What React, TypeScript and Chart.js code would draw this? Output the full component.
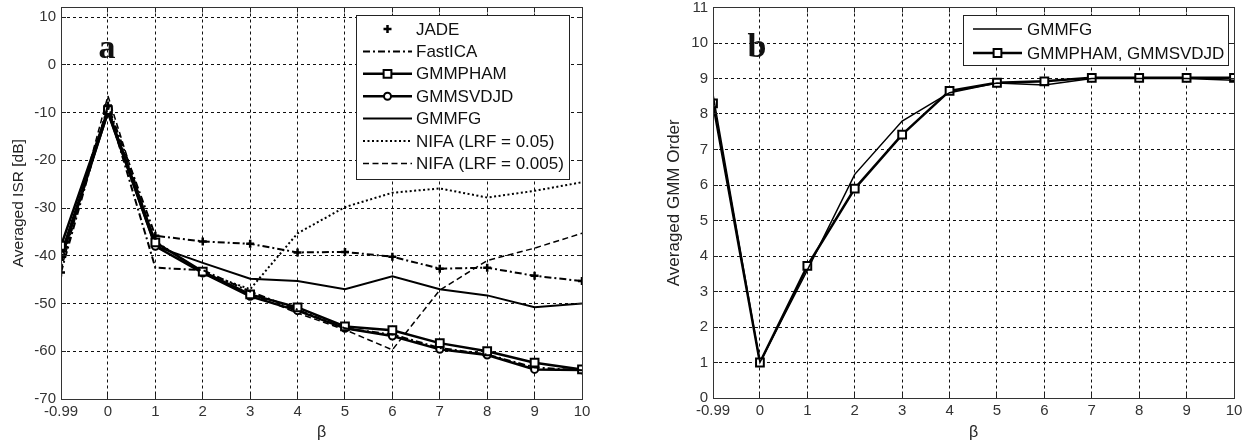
import React, { useEffect, useRef } from "react";
import { Chart, registerables } from "chart.js";

Chart.register(...registerables);

// ---------- data ----------
const betaValues = [-0.99, 0, 1, 2, 3, 4, 5, 6, 7, 8, 9, 10];
const isrTicks = [-70, -60, -50, -40, -30, -20, -10, 0, 10];
const orderTicks = [0, 1, 2, 3, 4, 5, 6, 7, 8, 9, 10, 11];

const jadeISR = [-43.5, -8.5, -35.8, -37, -37.5, -39.3, -39.2, -40.2, -42.7, -42.5, -44.2, -45.3];
const fastIcaISR = [-41, -9, -42.5, -43, -47.5, -51.3, -55.2, -56.5, -59.3, -60.7, -63.4, -64];
const gmmPhamISR = [-37.9, -9.5, -37.2, -43.3, -48.1, -50.8, -54.8, -55.6, -58.3, -60, -62.4, -63.8];
const gmmSvdjdISR = [-39.8, -10, -38, -43.6, -48.5, -51.5, -55.2, -56.8, -59.6, -60.8, -63.8, -63.9];
const gmmFgISR = [-41, -10, -38, -41.5, -44.8, -45.3, -47, -44.3, -47, -48.3, -50.8, -50];
const nifa05ISR = [-42, -9, -37, -43.5, -47, -35.3, -29.8, -26.8, -25.9, -27.8, -26.4, -24.6];
const nifa005ISR = [-43, -6.5, -38, -43.5, -48, -52, -55.5, -59.7, -47.2, -41, -38.4, -35.3];

const gmmFgOrder = [8.55, 1.0, 3.6, 6.3, 7.8, 8.6, 8.87, 8.82, 9.0, 9.0, 9.0, 8.95];
const gmmPhamSvdjdOrder = [8.3, 1.0, 3.72, 5.9, 7.42, 8.65, 8.88, 8.92, 9.02, 9.02, 9.02, 9.02];

// ---------- helpers ----------
const FONT = "'Liberation Sans', Arial, Helvetica, sans-serif";
const toPoints = (ys: number[]) => betaValues.map((x, i) => ({ x, y: ys[i] }));
const al = (p: number) => Math.round(p - 0.5) + 0.5;

function drawMarker(ctx: CanvasRenderingContext2D, style: string, x: number, y: number, r: number, bw: number) {
  ctx.save();
  ctx.setLineDash([]);
  ctx.lineWidth = bw;
  ctx.strokeStyle = "#000";
  ctx.fillStyle = "#fff";
  ctx.beginPath();
  if (style === "rect") {
    const s = r * Math.SQRT1_2;
    ctx.rect(x - s, y - s, 2 * s, 2 * s);
    ctx.fill();
    ctx.stroke();
  } else if (style === "circle") {
    ctx.arc(x, y, r, 0, Math.PI * 2);
    ctx.fill();
    ctx.stroke();
  } else if (style === "cross") {
    ctx.moveTo(x - r, y);
    ctx.lineTo(x + r, y);
    ctx.moveTo(x, y - r);
    ctx.lineTo(x, y + r);
    ctx.stroke();
  }
  ctx.restore();
}

type PanelCfg = {
  yTitle: string;
  yTitleX: number;
  yTitleFont: number;
  xTitleY: number;
  panelLabel: string;
  panelLabelX: number;
  panelLabelY: number;
  legendBox: [number, number, number, number];
  legendRow0: number;
  legendRowH: number;
  legendLine: [number, number];
  legendTextX: number;
};

function overlayPlugin(cfg: PanelCfg) {
  return {
    id: "overlay",
    afterDraw(chart: any) {
      const { ctx, chartArea: a } = chart;
      const xs = chart.scales.x;
      const ys = chart.scales.y;
      ctx.save();
      ctx.setLineDash([]);
      ctx.strokeStyle = "#222";
      ctx.lineWidth = 1;
      // inward ticks
      const tl = 5;
      ctx.beginPath();
      xs.ticks.forEach((t: any) => {
        const px = al(xs.getPixelForValue(t.value));
        ctx.moveTo(px, a.bottom);
        ctx.lineTo(px, a.bottom - tl);
        ctx.moveTo(px, a.top);
        ctx.lineTo(px, a.top + tl);
      });
      ys.ticks.forEach((t: any) => {
        const py = al(ys.getPixelForValue(t.value));
        ctx.moveTo(a.left, py);
        ctx.lineTo(a.left + tl, py);
        ctx.moveTo(a.right, py);
        ctx.lineTo(a.right - tl, py);
      });
      ctx.stroke();
      // box
      ctx.strokeStyle = "#333";
      ctx.strokeRect(al(a.left), al(a.top), Math.round(a.right - a.left), Math.round(a.bottom - a.top));

      // axis titles
      ctx.fillStyle = "#222";
      ctx.textAlign = "center";
      ctx.textBaseline = "middle";
      ctx.font = `16px ${FONT}`;
      ctx.fillText("\u03b2", (a.left + a.right) / 2, cfg.xTitleY);
      ctx.save();
      ctx.translate(cfg.yTitleX, (a.top + a.bottom) / 2);
      ctx.rotate(-Math.PI / 2);
      ctx.font = `${cfg.yTitleFont}px ${FONT}`;
      ctx.fillText(cfg.yTitle, 0, 0);
      ctx.restore();

      // panel label
      ctx.font = `bold 34px 'Liberation Serif', 'Times New Roman', serif`;
      ctx.fillStyle = "#111";
      ctx.fillText(cfg.panelLabel, cfg.panelLabelX, cfg.panelLabelY);

      // legend
      const [bx, by, bw, bh] = cfg.legendBox;
      ctx.fillStyle = "#fff";
      ctx.fillRect(bx, by, bw, bh);
      ctx.strokeStyle = "#222";
      ctx.lineWidth = 1;
      ctx.strokeRect(al(bx), al(by), bw, bh);
      ctx.font = `17px ${FONT}`;
      ctx.textAlign = "left";
      chart.data.datasets.forEach((ds: any, i: number) => {
        const y = cfg.legendRow0 + i * cfg.legendRowH;
        const [x0, x1] = cfg.legendLine;
        if (ds.legendLine !== false) {
          ctx.save();
          ctx.strokeStyle = "#000";
          ctx.lineWidth = ds.borderWidth;
          ctx.setLineDash(ds.borderDash || []);
          ctx.beginPath();
          ctx.moveTo(x0, y);
          ctx.lineTo(x1, y);
          ctx.stroke();
          ctx.restore();
        }
        if (ds.pointRadius > 0) drawMarker(ctx, ds.pointStyle, (x0 + x1) / 2, y, ds.pointRadius, ds.pointBorderWidth);
        ctx.fillStyle = "#111";
        ctx.fillText(ds.label, cfg.legendTextX, y + 1);
      });
      ctx.restore();
    },
  };
}

function makeOptions(p: {
  yMin: number;
  yMax: number;
  yTicks: number[];
  yWidth: number;
  xHeight: number;
  padTop: number;
  padRight: number;
}) {
  const tickFont = { family: FONT, size: 15 };
  return {
    animation: false,
    responsive: false,
    maintainAspectRatio: false,
    layout: { padding: { top: p.padTop, right: p.padRight, left: 0, bottom: 0 } },
    plugins: { legend: { display: false }, tooltip: { enabled: false } },
    elements: { line: { tension: 0 } },
    scales: {
      x: {
        type: "linear",
        min: -0.99,
        max: 10,
        afterBuildTicks: (s: any) => {
          s.ticks = betaValues.map((v) => ({ value: v }));
        },
        afterFit: (s: any) => {
          s.height = p.xHeight;
          s.paddingLeft = 0;
          s.paddingRight = 0;
        },
        ticks: {
          callback: (v: any) => String(v),
          font: tickFont,
          color: "#333",
          padding: 4,
          maxRotation: 0,
          autoSkip: false,
        },
        grid: { color: "#111", lineWidth: 1, drawTicks: false },
        border: { display: false, dash: [3, 3] },
      },
      y: {
        type: "linear",
        min: p.yMin,
        max: p.yMax,
        afterBuildTicks: (s: any) => {
          s.ticks = p.yTicks.map((v) => ({ value: v }));
        },
        afterFit: (s: any) => {
          s.width = p.yWidth;
          s.paddingTop = 0;
          s.paddingBottom = 0;
        },
        ticks: {
          callback: (v: any) => String(v),
          font: tickFont,
          color: "#333",
          padding: 5,
          autoSkip: false,
        },
        grid: { color: "#111", lineWidth: 1, drawTicks: false },
        border: { display: false, dash: [3, 3] },
      },
    },
  };
}

const base = { borderColor: "#000", backgroundColor: "#fff", fill: false, pointBorderColor: "#000", pointBackgroundColor: "#fff" };

export default function App() {
  const leftRef = useRef<HTMLCanvasElement>(null);
  const rightRef = useRef<HTMLCanvasElement>(null);

  useEffect(() => {
    const left = new Chart(leftRef.current as HTMLCanvasElement, {
      type: "line",
      data: {
        datasets: [
          { ...base, label: "JADE", data: toPoints(jadeISR), borderWidth: 2, borderDash: [7, 3, 2, 3], pointStyle: "cross", pointRadius: 4, pointBorderWidth: 2.5, legendLine: false },
          { ...base, label: "FastICA", data: toPoints(fastIcaISR), borderWidth: 2, borderDash: [7, 3, 2, 3], pointRadius: 0 },
          { ...base, label: "GMMPHAM", data: toPoints(gmmPhamISR), borderWidth: 2.5, borderDash: [], pointStyle: "rect", pointRadius: 5.5, pointBorderWidth: 2 },
          { ...base, label: "GMMSVDJD", data: toPoints(gmmSvdjdISR), borderWidth: 2.5, borderDash: [], pointStyle: "circle", pointRadius: 3.5, pointBorderWidth: 2 },
          { ...base, label: "GMMFG", data: toPoints(gmmFgISR), borderWidth: 2, borderDash: [], pointRadius: 0 },
          { ...base, label: "NIFA (LRF = 0.05)", data: toPoints(nifa05ISR), borderWidth: 2, borderDash: [2, 2.5], pointRadius: 0 },
          { ...base, label: "NIFA (LRF = 0.005)", data: toPoints(nifa005ISR), borderWidth: 1.5, borderDash: [6, 3.5], pointRadius: 0 },
        ] as any,
      },
      options: makeOptions({ yMin: -70, yMax: 12, yTicks: isrTicks, yWidth: 61, xHeight: 46, padTop: 6.4, padRight: 38 }) as any,
      plugins: [
        overlayPlugin({
          yTitle: "Averaged ISR [dB]",
          yTitleX: 19,
          yTitleFont: 15.5,
          xTitleY: 433,
          panelLabel: "a",
          panelLabelX: 107,
          panelLabelY: 49,
          legendBox: [356, 15, 213, 164],
          legendRow0: 29,
          legendRowH: 22.4,
          legendLine: [363, 412],
          legendTextX: 416,
        }),
      ],
    });

    const right = new Chart(rightRef.current as HTMLCanvasElement, {
      type: "line",
      data: {
        datasets: [
          { ...base, label: "GMMFG", data: toPoints(gmmFgOrder), borderWidth: 1.5, borderDash: [], pointRadius: 0 },
          { ...base, label: "GMMPHAM, GMMSVDJD", data: toPoints(gmmPhamSvdjdOrder), borderWidth: 2.5, borderDash: [], pointStyle: "rect", pointRadius: 5.5, pointBorderWidth: 2 },
        ] as any,
      },
      options: makeOptions({ yMin: 0, yMax: 11, yTicks: orderTicks, yWidth: 93, xHeight: 47, padTop: 7, padRight: 13 }) as any,
      plugins: [
        overlayPlugin({
          yTitle: "Averaged GMM Order",
          yTitleX: 54,
          yTitleFont: 17,
          xTitleY: 433,
          panelLabel: "b",
          panelLabelX: 137,
          panelLabelY: 48,
          legendBox: [343, 15, 265, 50],
          legendRow0: 29,
          legendRowH: 24,
          legendLine: [353, 402],
          legendTextX: 407,
        }),
      ],
    });

    return () => {
      left.destroy();
      right.destroy();
    };
  }, []);

  return (
    <div style={{ position: "absolute", left: 0, top: 0, width: 1247, height: 445, background: "#fff", overflow: "hidden" }}>
      <canvas ref={leftRef} width={620} height={445} style={{ position: "absolute", left: 0, top: 0, width: 620, height: 445 }} />
      <canvas ref={rightRef} width={627} height={445} style={{ position: "absolute", left: 620, top: 0, width: 627, height: 445 }} />
    </div>
  );
}
